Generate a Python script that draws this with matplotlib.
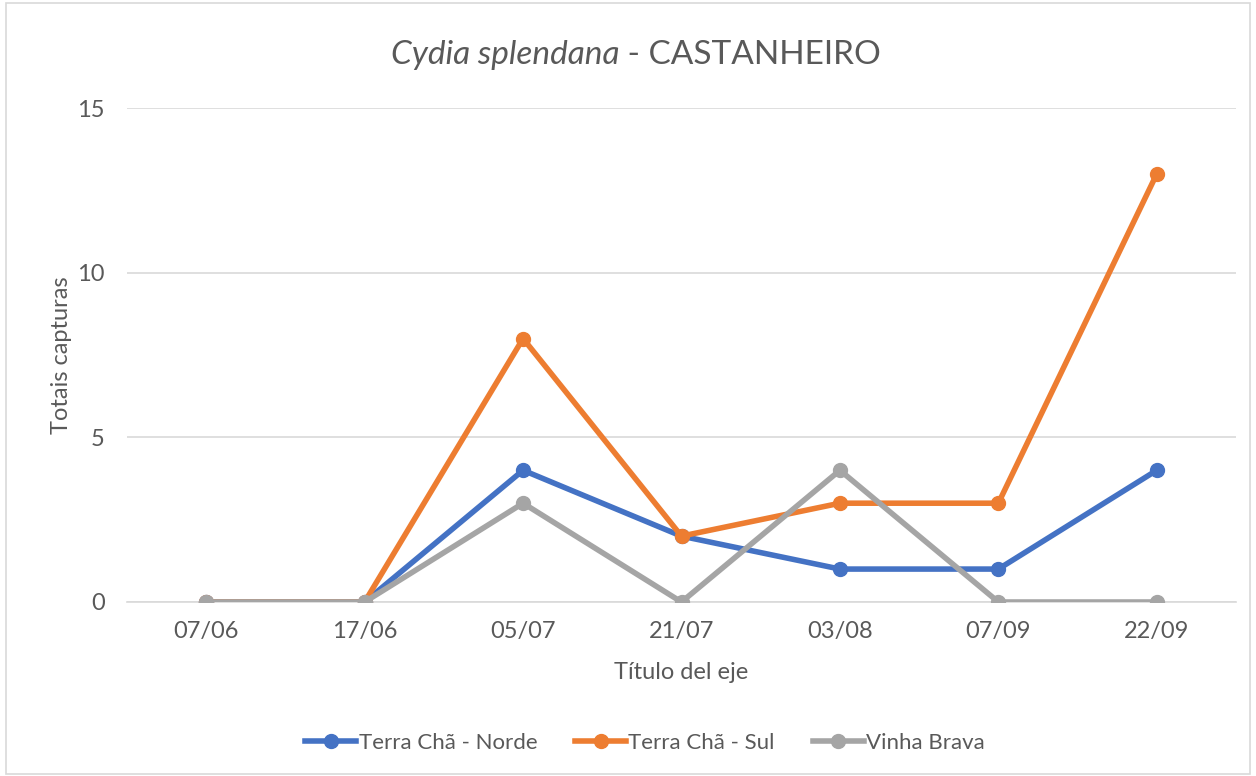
import matplotlib.pyplot as plt
from matplotlib.patches import Rectangle

plt.rcParams['font.family'] = ['Lato', 'DejaVu Sans']

fechas = ['07/06', '17/06', '05/07', '21/07', '03/08', '07/09', '22/09']
norde = [0, 0, 4, 2, 1, 1, 4]
sul = [0, 0, 8, 2, 3, 3, 13]
vinha = [0, 0, 3, 0, 4, 0, 0]

cor_texto = '#595959'

fig = plt.figure(figsize=(12.56, 7.76), dpi=100)
ax = fig.add_axes([127 / 1256, 1 - 602 / 776, 1109 / 1256, 494 / 776])

x = range(len(fechas))
ax.plot(x, norde, color='#4472C4', lw=4, marker='o', ms=10, label='Terra Chã - Norde', zorder=3)
ax.plot(x, sul, color='#ED7D31', lw=4, marker='o', ms=10, label='Terra Chã - Sul', zorder=3)
ax.plot(x, vinha, color='#A5A5A5', lw=4, marker='o', ms=10, label='Vinha Brava', zorder=3)

ax.set_xlim(-0.5, len(fechas) - 0.5)
ax.set_ylim(0, 15)
ax.set_yticks([0, 5, 10, 15])
ax.set_xticks(list(x))
ax.set_xticklabels(fechas)
ax.grid(axis='y', color='#D9D9D9', lw=1.2)
ax.set_axisbelow(True)
for s in ['top', 'right', 'left']:
    ax.spines[s].set_visible(False)
ax.spines['bottom'].set_color('#D9D9D9')
ax.spines['bottom'].set_linewidth(1.2)
ax.tick_params(length=0, labelsize=17, colors=cor_texto)
ax.tick_params(axis='x', pad=14)
ax.tick_params(axis='y', pad=16)

ax.set_xlabel('Título del eje', fontsize=17, color=cor_texto, labelpad=14)
ax.set_ylabel('Totais capturas', fontsize=17, color=cor_texto, labelpad=4)

# titulo: parte em itálico + parte normal
t1 = fig.text(0, 0, 'Cydia splendana', fontsize=24, style='italic', color=cor_texto)
t2 = fig.text(0, 0, ' - CASTANHEIRO', fontsize=24, color=cor_texto)
fig.canvas.draw()
r = fig.canvas.get_renderer()
w1 = t1.get_window_extent(r).width
w2 = t2.get_window_extent(r).width
x0 = 636 - (w1 + w2) / 2
ytit = 1 - 55 / 776
t1.set_position((x0 / 1256, ytit))
t1.set_va('center')
t2.set_position(((x0 + w1) / 1256, ytit))
t2.set_va('center')

fig.legend(loc='center', bbox_to_anchor=(645 / 1256, 1 - 743 / 776), ncol=3, frameon=False,
           fontsize=16, labelcolor=cor_texto, handlelength=2.3, handletextpad=0.1,
           columnspacing=1.7)

fig.patches.append(Rectangle((6 / 1256, 0.002), 1244 / 1256, 0.994, transform=fig.transFigure,
                             fill=False, edgecolor='#D9D9D9', lw=1.2))

fig.savefig('out.png', dpi=100)
